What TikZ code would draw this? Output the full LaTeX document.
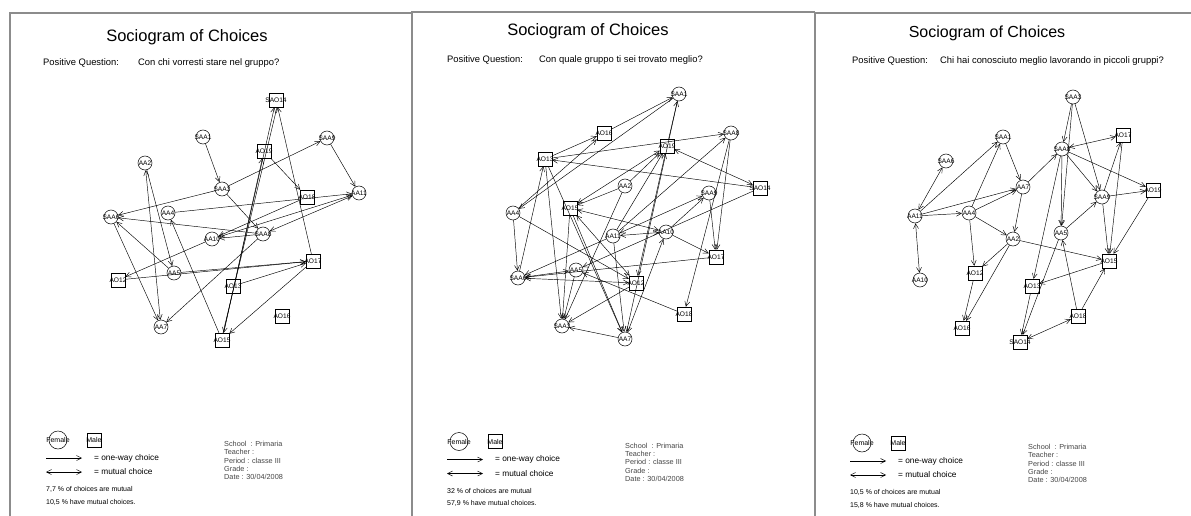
\documentclass[tikz,border=0pt]{standalone}
\usepackage{fontspec}
\setmainfont{Liberation Sans}
\usetikzlibrary{arrows.meta}
\definecolor{frame}{RGB}{140,140,140}
\definecolor{info}{RGB}{70,70,70}
\tikzset{
  fem/.style={circle,draw,line width=0.5pt,minimum size=14pt,inner sep=0pt},
  mal/.style={rectangle,draw,line width=0.5pt,minimum size=14pt,inner sep=0pt},
  lbl/.style={font=\fontsize{6.6}{7}\selectfont,inner sep=0pt},
  ed/.style={line width=0.45pt,-{Straight Barb[length=5pt,width=5pt]}},
  mu/.style={line width=0.45pt,{Straight Barb[length=5pt,width=5pt]}-{Straight Barb[length=5pt,width=5pt]}},
  border/.style={line width=2.6pt,frame},
  ttl/.style={font=\fontsize{16.5}{18}\selectfont,inner sep=0pt},
  qst/.style={font=\fontsize{9.4}{11}\selectfont,inner sep=0pt,anchor=west},
  leg/.style={font=\fontsize{8.3}{10}\selectfont,inner sep=0pt,anchor=west},
  stat/.style={font=\fontsize{7}{8}\selectfont,inner sep=0pt,anchor=west},
  school/.style={font=\fontsize{7.3}{8}\selectfont,inner sep=0pt,anchor=west,text=info},
  lfem/.style={circle,draw,line width=0.5pt,minimum size=18pt,inner sep=0pt},
  lmal/.style={rectangle,draw,line width=0.5pt,minimum size=14pt,inner sep=0pt},
  ltxt/.style={font=\fontsize{7}{8}\selectfont,inner sep=0pt},
}
\newcommand\Fn[4]{\node[fem,label={[lbl]center:#4}] (#1) at (#2,#3) {};}
\newcommand\Mn[4]{\node[mal,label={[lbl]center:#4}] (#1) at (#2,#3) {};}
\newcommand\EdA[2]{\draw[ed] (#1) -- (#2);}
\newcommand\EdM[2]{\draw[mu] (#1) -- (#2);}
\newcommand\Legend[3]{%
  \node[lfem] (#1fem) at (58,440) {};
  \node[ltxt] at (#1fem) {Female};
  \node[lmal] (#1mal) at (94,440) {};
  \node[ltxt] at (#1mal) {Male};
  \coordinate (#1a1) at (46,458); \coordinate (#1a2) at (82,458);
  \coordinate (#1b1) at (46,472); \coordinate (#1b2) at (82,472);
  \draw[ed] (#1a1) -- (#1a2);
  \draw[mu] (#1b1) -- (#1b2);
  \node[leg] at (94,458) {= one-way choice};
  \node[leg] at (94,472) {= mutual choice};
  \node[stat] at (46,489) {#2};
  \node[stat] at (46,502) {#3};
  \node[school] at (224,444) {School\ \ : Primaria};
  \node[school] at (224,452.3) {Teacher :};
  \node[school] at (224,460.6) {Period : classe III};
  \node[school] at (224,468.9) {Grade :};
  \node[school] at (224,477.2) {Date : 30/04/2008};
}
\begin{document}
\begin{tikzpicture}[x=1pt,y=-1pt]
\useasboundingbox[fill=white] (0,0) rectangle (1191,516);
% frames
\draw[border] (10,516) -- (10,13) -- (412,13);
\draw[border] (412,516) -- (412,12) -- (815,12);
\draw[border] (815,516) -- (815,13) -- (1191,13);
% titles
\node[ttl] (t1) at (187,37) {Sociogram of Choices};
\node[ttl] (t2) at (588,31) {Sociogram of Choices};
\node[ttl,font=\fontsize{16}{18}\selectfont] (t3) at (987,33) {Sociogram of Choices};
\node[qst] (q1a) at (43,63) {Positive Question:};
\node[qst] (q1b) at (138,63) {Con chi vorresti stare nel gruppo?};
\node[qst] (q2a) at (447,60) {Positive Question:};
\node[qst] (q2b) at (539,60) {Con quale gruppo ti sei trovato meglio?};
\node[qst] (q3a) at (852,61) {Positive Question:};
\node[qst] (q3b) at (940,61) {Chi hai conosciuto meglio lavorando in piccoli gruppi?};

% ---------------- panel 1 ----------------
\Mn{aSAO14}{276}{100}{SAO14}
\Fn{aSAA1}{203}{137}{SAA1}
\Fn{aSAA9}{327}{138}{SAA9}
\Mn{aAO19}{264}{151}{AO19}
\Fn{aAA2}{145}{163}{AA2}
\Fn{aSAA3}{222}{189}{SAA3}
\Mn{aAO18}{307}{197}{AO18}
\Fn{aAA11}{359}{193}{AA11}
\Fn{aSAA6}{111}{217}{SAA6}
\Fn{aAA4}{168}{213}{AA4}
\Fn{aAA10}{212}{239}{AA10}
\Fn{aSAA8}{263}{234}{SAA8}
\Mn{aAO17}{313}{261}{AO17}
\Fn{aAA5}{174}{273}{AA5}
\Mn{aAO12}{118}{280}{AO12}
\Mn{aAO13}{233}{286}{AO13}
\Mn{aAO16}{282}{316}{AO16}
\Fn{aAA7}{161}{327}{AA7}
\Mn{aAO15}{222}{340}{AO15}
\EdA{aSAA1}{aSAA3}
\EdA{aSAA9}{aAA11}
\EdA{aAO19}{aAO18}
\EdA{aSAA3}{aSAA6}
\EdA{aSAA3}{aSAA9}
\EdA{aAA4}{aAA11}
\EdA{aAO15}{aAO19}
\EdM{aSAO14}{aAO15}
\draw[line width=0.45pt] ([xshift=1pt]aSAO14.south) -- ([xshift=1pt]aAO15.north);
\EdA{aAO17}{aSAO14}
\EdA{aSAA3}{aSAA8}
\EdM{aAA10}{aAA11}
\EdM{aSAA8}{aAA11}
\EdA{aSAA8}{aSAA6}
\EdA{aAO18}{aAA10}
\EdA{aSAA8}{aAA10}
\EdA{aAA10}{aAO12}
\EdM{aAA7}{aAA2}
\EdA{aAA2}{aAA5}
\EdA{aSAA6}{aAA7}
\EdA{aAA5}{aSAA6}
\EdA{aAO12}{aAO17}
\EdA{aAA5}{aAO17}
\EdA{aAO13}{aAO17}
\EdA{aAO17}{aAO15}
\EdA{aSAA8}{aAA7}
\EdA{aAO15}{aAA4}

% ---------------- panel 2 ----------------
\Fn{bSAA1}{679}{94}{SAA1}
\Mn{bAO16}{604}{133}{AO16}
\Fn{bSAA8}{731}{133}{SAA8}
\Mn{bAO13}{545}{159}{AO13}
\Mn{bAO19}{667}{146}{AO19}
\Fn{bAA2}{625}{186}{AA2}
\Fn{bSAA9}{709}{193}{SAA9}
\Mn{bSAO14}{760}{188}{SAO14}
\Fn{bAA4}{513}{213}{AA4}
\Mn{bAO15}{570}{208}{AO15}
\Fn{bAA10}{666}{232}{AA10}
\Fn{bAA11}{613}{236}{AA11}
\Mn{bAO17}{716}{257}{AO17}
\Fn{bAA5}{576}{270}{AA5}
\Fn{bSAA6}{518}{278}{SAA6}
\Mn{bAO12}{636}{283}{AO12}
\Mn{bAO18}{684}{314}{AO18}
\Fn{bSAA3}{562}{326}{SAA3}
\Fn{bAA7}{625}{339}{AA7}
\EdA{bAO16}{bSAA1}
\EdA{bAO13}{bAO16}
\EdA{bSAA1}{bAA4}
\EdA{bAA4}{bAO16}
\EdA{bAO13}{bSAA8}
\EdA{bSAO14}{bAO13}
\EdM{bAO19}{bSAO14}
\EdA{bAO19}{bSAA1}
\EdM{bAO15}{bAO19}
\EdA{bAA2}{bAO19}
\EdA{bAA11}{bAO19}
\EdA{bSAA8}{bAO17}
\EdA{bAA11}{bSAA8}
\EdA{bAA10}{bSAA9}
\EdA{bSAA6}{bAO13}
\EdA{bAO13}{bSAA3}
\EdA{bAA4}{bAO12}
\EdA{bAA10}{bAO17}
\EdM{bAA11}{bAA10}
\EdM{bAO15}{bAA10}
\EdA{bAO17}{bSAA6}
\EdM{bAO12}{bSAA6}
\EdM{bAA5}{bSAA6}
\EdA{bAA11}{bSAA6}
\EdA{bAA5}{bSAA3}
\EdA{bAO15}{bSAA3}
\EdA{bAO12}{bSAA3}
\EdA{bAA7}{bSAA3}
\EdA{bAA11}{bAA7}
\EdM{bAA10}{bAA7}
\EdA{bAO15}{bAA7}
\EdA{bSAA8}{bAO18}
\EdA{bAO18}{bAA5}
\EdM{bAO19}{bAO12}
\EdA{bSAA1}{bAA7}
\EdA{bSAA9}{bAO17}
\EdM{bSAA9}{bAA11}
\EdA{bAA4}{bSAA6}
\EdA{bAA2}{bAO15}
\EdM{bAO12}{bAO15}
\EdA{bAA2}{bSAA3}
\EdA{bSAO14}{bAA5}
\EdA{bAO13}{bAA7}

% ---------------- panel 3 ----------------
\Fn{cSAA3}{1073}{97}{SAA3}
\Fn{cSAA1}{1003}{137}{SAA1}
\Mn{cAO17}{1123}{135}{AO17}
\Fn{cSAA6}{946}{161}{SAA6}
\Fn{cSAA8}{1062}{149}{SAA8}
\Fn{cAA7}{1023}{187}{AA7}
\Fn{cSAA9}{1102}{197}{SAA9}
\Mn{cAO19}{1153}{190}{AO19}
\Fn{cAA11}{915}{216}{AA11}
\Fn{cAA4}{969}{213}{AA4}
\Fn{cAA2}{1013}{239}{AA2}
\Fn{cAA5}{1061}{233}{AA5}
\Mn{cAO15}{1109}{261}{AO15}
\Mn{cAO12}{975}{273}{AO12}
\Fn{cAA10}{920}{280}{AA10}
\Mn{cAO13}{1032}{286}{AO13}
\Mn{cAO18}{1078}{316}{AO18}
\Mn{cAO16}{962}{328}{AO16}
\Mn{cSAO14}{1020}{342}{SAO14}
\EdM{cSAA6}{cAA11}
\EdM{cAA11}{cAA10}
\EdA{cAA11}{cSAA1}
\EdA{cAA4}{cSAA1}
\EdA{cAA11}{cAA7}
\EdA{cAA11}{cAA4}
\EdA{cAA4}{cAA7}
\EdA{cSAA1}{cAA7}
\EdA{cAA7}{cSAA8}
\EdA{cSAA3}{cSAA8}
\EdA{cSAA3}{cSAA9}
\EdA{cSAA3}{cAA5}
\EdM{cSAA8}{cAO17}
\EdA{cSAA8}{cSAA9}
\EdA{cSAA8}{cAO19}
\EdA{cSAA8}{cAA5}
\EdA{cSAA8}{cAO13}
\EdA{cAO17}{cAO15}
\EdA{cSAA9}{cAO19}
\EdA{cSAA9}{cAO17}
\EdA{cAA5}{cSAA9}
\EdA{cAO19}{cAO15}
\EdA{cAA4}{cAA2}
\EdA{cAA4}{cAO12}
\EdA{cAA7}{cAA2}
\EdA{cAA2}{cAO12}
\EdA{cAA2}{cAO16}
\EdA{cAO12}{cAO16}
\EdA{cAA2}{cAO15}
\EdA{cAO15}{cAO13}
\EdA{cAO13}{cSAO14}
\EdA{cAA5}{cSAO14}
\EdM{cSAO14}{cAO18}
\EdA{cAO18}{cAA5}
\EdA{cAO18}{cAO15}
\EdA{cSAA9}{cAO15}

% ---------------- legends ----------------
\Legend{la}{7,7 \% of choices are mutual}{10,5 \% have mutual choices.}
\begin{scope}[shift={(401,1.5)}]
\Legend{lb}{32 \% of choices are mutual}{57,9 \% have mutual choices.}
\end{scope}
\begin{scope}[shift={(804,3)}]
\Legend{lc}{10,5 \% of choices are mutual}{15,8 \% have mutual choices.}
\end{scope}
\end{tikzpicture}
\end{document}
